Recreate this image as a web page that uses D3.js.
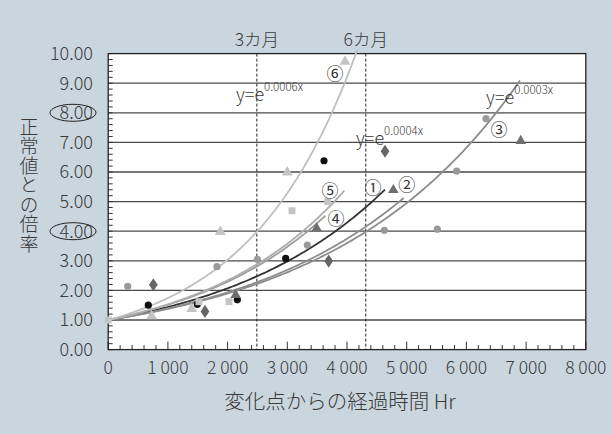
<!DOCTYPE html>
<html><head><meta charset="utf-8">
<script src="https://cdn.jsdelivr.net/npm/d3@7"></script>
<style>
html,body{margin:0;padding:0;background:#c9d6de;}
svg{display:block;}
text{font-family:"Noto Sans CJK JP","Noto Sans",sans-serif;fill:#3a3a3a;font-weight:300;}
text.lab{font-weight:400;fill:#333;}
</style></head>
<body><svg id="c" width="612" height="434"></svg>
<script>
// ---- data ----
const xTicks = [0,1000,2000,3000,4000,5000,6000,7000,8000];
const yTicks = [0,1,2,3,4,5,6,7,8,9,10];
const circledYTicks = [8,4];
const seriesNames = ["①","②","③","④","⑤","⑥"];
const s1 = [[672,1.50],[1493,1.53],[2163,1.68],[2973,3.08],[3615,6.38]];
const s2 = [[2135,1.85],[3492,4.10],[4776,5.39],[6910,7.05]];
const s3 = [[327,2.14],[1822,2.80],[2498,3.05],[3335,3.53],[4625,4.03],[5513,4.07],[5837,6.03],[6328,7.80]];
const s4 = [[756,2.19],[1621,1.29],[3693,2.99],[4637,6.70]];
const s5 = [[0,1.0],[1520,1.62],[2023,1.62],[3079,4.69],[3676,5.00]];
const s6 = [[728,1.13],[1398,1.38],[1878,3.98],[3000,5.99],[3966,9.73]];
const fitK   = [0.000364,0.00033,0.00032,0.000415,0.000425,0.000555];
const fitEnd = [4637,4950,6898,3637,3955,4173];
const markLines = [[2490,"3カ月"],[4315,"6カ月"]];
const equations = ["0.0006x","0.0004x","0.0003x"];

// ---- layout ----
const svg = d3.select("#c");
const L=108.2, T=53.6, W=477.6, H=296;
const x = d3.scaleLinear().domain([0,8000]).range([L,L+W]);
const y = d3.scaleLinear().domain([0,10]).range([T+H,T]);

svg.append("rect").attr("x",L).attr("y",T).attr("width",W).attr("height",H).attr("fill","#fff");

// gridlines
svg.append("g").selectAll("line").data(yTicks.filter(d=>d>0&&d<10)).join("line")
  .attr("x1",L).attr("x2",L+W).attr("y1",d=>y(d)).attr("y2",d=>y(d))
  .attr("stroke","#4a4a4a").attr("stroke-width",1.3);

// minor ticks
const gt = svg.append("g").attr("stroke","#333").attr("stroke-width",1);
gt.selectAll(".xt").data(d3.range(0,8001,200)).join("line")
  .attr("x1",d=>x(d)).attr("x2",d=>x(d)).attr("y1",T+H).attr("y2",d=>T+H-(d%1000===0?8:4.5));
gt.selectAll(".yt").data(d3.range(0,10.01,0.2)).join("line")
  .attr("y1",d=>y(d)).attr("y2",d=>y(d)).attr("x1",L).attr("x2",L+4.5);

// dashed month lines
svg.append("g").selectAll("line").data(markLines).join("line")
  .attr("x1",d=>x(d[0])).attr("x2",d=>x(d[0])).attr("y1",T).attr("y2",T+H)
  .attr("stroke","#222").attr("stroke-width",1).attr("stroke-dasharray","3,2");
svg.append("g").selectAll("text").data(markLines).join("text")
  .attr("x",d=>x(d[0])).attr("y",45.5).attr("text-anchor","middle")
  .attr("font-size",17.5).text(d=>d[1]);

// plot border
svg.append("rect").attr("x",L).attr("y",T).attr("width",W).attr("height",H)
  .attr("fill","none").attr("stroke","#222").attr("stroke-width",1.3);

// axes labels
svg.append("g").selectAll("text").data(yTicks).join("text")
  .attr("x",93).attr("y",d=>y(d)).attr("dy","0.36em").attr("text-anchor","end")
  .attr("font-size",18).text(d=>d.toFixed(2));
svg.append("g").selectAll("ellipse").data(circledYTicks).join("ellipse")
  .attr("cx",73).attr("cy",d=>y(d)).attr("rx",23).attr("ry",8.5)
  .attr("fill","none").attr("stroke","#222").attr("stroke-width",1);
const fmt = d=> d===0 ? "0" : d3.format(",")(d).replace(/,/g," ");
svg.append("g").selectAll("text").data(xTicks).join("text")
  .attr("x",d=>x(d)).attr("y",374).attr("text-anchor","middle")
  .attr("font-size",17.5).text(fmt);

svg.append("text").attr("x",340).attr("y",409).attr("text-anchor","middle")
  .attr("font-size",20.5).text("変化点からの経過時間 Hr");
svg.append("text").attr("x",29).attr("y",117)
  .style("writing-mode","vertical-rl").style("text-orientation","upright")
  .attr("letter-spacing",0.5).attr("font-size",19).text("正常値との倍率");

// curves
const curveColors = ["#333","#8c8c8c","#8c8c8c","#9e9e9e","#adadad","#bfbfbf"];
const line = d3.line().x(d=>x(d[0])).y(d=>y(d[1]));
fitK.forEach((k,i)=>{
  const pts = d3.range(0,fitEnd[i],40).concat([fitEnd[i]]).map(v=>[v,Math.exp(k*v)]);
  svg.append("path").attr("d",line(pts)).attr("fill","none")
    .attr("stroke",curveColors[i]).attr("stroke-width",1.8);
});

// markers
const g = svg.append("g");
g.selectAll(".m1").data(s1).join("circle").attr("cx",d=>x(d[0])).attr("cy",d=>y(d[1])).attr("r",3.6).attr("fill","#111");
g.selectAll(".m3").data(s3).join("circle").attr("cx",d=>x(d[0])).attr("cy",d=>y(d[1])).attr("r",3.6).attr("fill","#999");
const sym = (type,size)=>d3.symbol().type(type).size(size)();
g.selectAll(".m2").data(s2).join("path").attr("d",sym(d3.symbolTriangle,48))
  .attr("transform",d=>`translate(${x(d[0])},${y(d[1])})`).attr("fill","#6e6e6e");
g.selectAll(".m4").data(s4).join("path").attr("d",sym(d3.symbolDiamond,50))
  .attr("transform",d=>`translate(${x(d[0])},${y(d[1])}) scale(1.15,1)`).attr("fill","#666");
g.selectAll(".m5").data(s5).join("path").attr("d",sym(d3.symbolSquare,48))
  .attr("transform",d=>`translate(${x(d[0])},${y(d[1])})`).attr("fill","#c4c4c4");
g.selectAll(".m6").data(s6).join("path").attr("d",sym(d3.symbolTriangle,52))
  .attr("transform",d=>`translate(${x(d[0])},${y(d[1])})`).attr("fill","#c4c4c4");

// series labels (circled numbers)
const labelPos = [[4437,5.48],[5000,5.55],[6547,7.42],[3814,4.42],[3717,5.37],[3800,9.3]];
svg.append("g").selectAll("text").data(seriesNames).join("text").attr("class","lab")
  .attr("x",(d,i)=>x(labelPos[i][0])).attr("y",(d,i)=>y(labelPos[i][1])).attr("dy","0.36em")
  .attr("text-anchor","middle").attr("font-size",17).text(d=>d);

// equations
const eqPos = [[2140,8.4],[4150,6.9],[6330,8.3]];
equations.forEach((e,i)=>{
  const t = svg.append("text").attr("x",x(eqPos[i][0])).attr("y",y(eqPos[i][1])).attr("font-size",18);
  t.append("tspan").text("y=e");
  t.append("tspan").attr("dy",-10).attr("font-size",11.5).text(e);
});
</script></body></html>
